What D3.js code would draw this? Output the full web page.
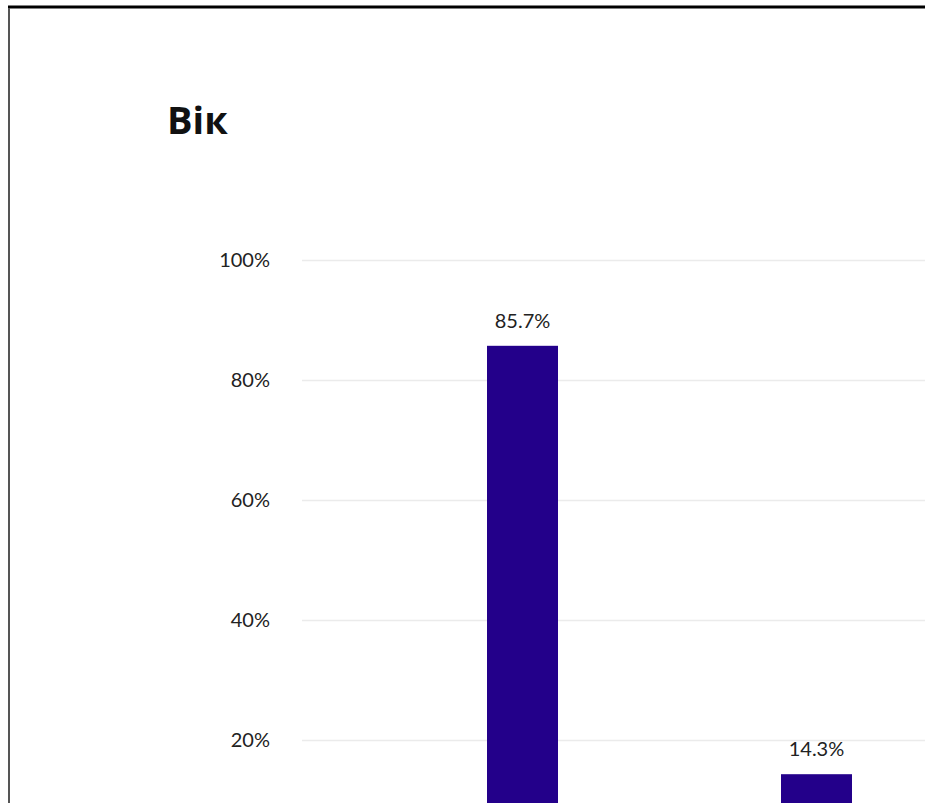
<!DOCTYPE html>
<html>
<head>
<meta charset="utf-8">
<script src="https://cdn.jsdelivr.net/npm/d3@7"></script>
<style>
  html, body { margin: 0; padding: 0; background: #fff; }
  svg { display: block; }
</style>
</head>
<body>
<svg id="chart" width="925" height="803"></svg>
<script>
const title = "Вік";
const categories = ["до 35 років", "35 років і старше"];
const values = [85.7, 14.3];
const tickValues = [20, 40, 60, 80, 100];

const svg = d3.select("#chart");
const W = 925, H = 803;

// frame borders
svg.append("line").attr("x1", 8).attr("x2", W).attr("y1", 7).attr("y2", 7)
  .attr("stroke", "#000").attr("stroke-width", 3);
svg.append("line").attr("x1", 9).attr("x2", 9).attr("y1", 8).attr("y2", H)
  .attr("stroke", "#555").attr("stroke-width", 2);

svg.append("text").attr("x", 167).attr("y", 134)
  .attr("font-family", "'Open Sans', sans-serif").attr("font-weight", 700)
  .attr("font-size", 38).attr("fill", "#111").text(title);

const y = d3.scaleLinear().domain([0, 100]).range([860, 260]);
const x = d3.scaleBand().domain(categories).range([487, 852])
  .paddingInner(0.7585).paddingOuter(0);

const grid = svg.append("g").attr("transform", "translate(302,0)")
  .call(d3.axisLeft(y).tickValues(tickValues).tickSize(-(W - 302)).tickFormat(d => d + "%"));
grid.select(".domain").remove();
grid.selectAll(".tick line").attr("stroke", "#ebebeb").attr("stroke-width", 1.5);
grid.selectAll(".tick text").attr("x", -32)
  .attr("font-family", "Lato, sans-serif").attr("font-size", 20).attr("fill", "#222");

svg.append("g").selectAll("rect").data(values).join("rect")
  .attr("x", (d, i) => x(categories[i]))
  .attr("width", x.bandwidth())
  .attr("y", d => y(d))
  .attr("height", d => y(0) - y(d))
  .attr("fill", "#23008a");

svg.append("g").selectAll("text").data(values).join("text")
  .attr("x", (d, i) => x(categories[i]) + x.bandwidth() / 2)
  .attr("y", d => y(d) - 18)
  .attr("text-anchor", "middle")
  .attr("font-family", "Lato, sans-serif").attr("font-size", 20).attr("fill", "#222")
  .text(d => d.toFixed(1) + "%");
</script>
</body>
</html>
